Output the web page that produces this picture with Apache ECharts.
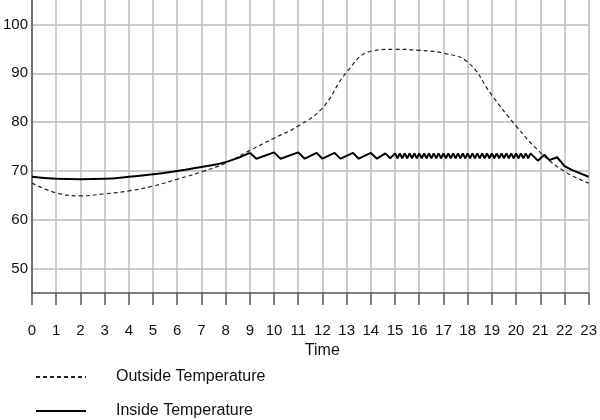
<!DOCTYPE html>
<html>
<head>
<meta charset="utf-8">
<script src="https://cdn.jsdelivr.net/npm/echarts@6/dist/echarts.min.js"></script>
<style>html,body{margin:0;padding:0;background:#fff}#c{width:600px;height:420px}</style>
</head>
<body>
<div id="c"></div>
<script>
const hours = [0,1,2,3,4,5,6,7,8,9,10,11,12,13,14,15,16,17,18,19,20,21,22,23];
const outsideTemp = [67.5,65.5,64.9,65.3,65.9,66.9,68.3,69.8,71.6,74.2,76.7,79.2,82.9,90.2,94.5,94.9,94.7,94.1,92.3,85.5,79.2,73.8,69.9,67.5];
const insideMorningHours = [0,1,2,3,4,5,6,7,8,9];
const insideMorningTemp = [68.8,68.4,68.3,68.4,68.8,69.3,70.0,70.8,71.8,73.7];
const insideCyclingTimes = [9.0,9.27,10.0,10.27,11.0,11.27,11.76,12.0,12.5,12.75,13.26,13.5,14.0,14.25,14.6,14.8,15.0,
  15.1,15.2,15.3,15.4,15.5,15.6,15.7,15.8,15.9,16.0,
  16.1,16.2,16.3,16.4,16.5,16.6,16.7,16.8,16.9,17.0,
  17.1,17.2,17.3,17.4,17.5,17.6,17.7,17.8,17.9,18.0,
  18.1,18.2,18.3,18.4,18.5,18.6,18.7,18.8,18.9,19.0,
  19.1,19.2,19.3,19.4,19.5,19.6,19.7,19.8,19.9,20.0,
  20.1,20.2,20.3,20.4,20.5,20.6,
  20.9,21.17,21.38,21.7,22.0,22.3,23.0];
const insideCyclingTemp = [73.7,72.5,73.8,72.5,73.8,72.5,73.7,72.5,73.7,72.5,73.7,72.5,73.7,72.5,73.6,72.6,73.6,
  72.6,73.6,72.6,73.6,72.6,73.6,72.6,73.6,72.6,73.6,
  72.6,73.6,72.6,73.6,72.6,73.6,72.6,73.6,72.6,73.6,
  72.6,73.6,72.6,73.6,72.6,73.6,72.6,73.6,72.6,73.6,
  72.6,73.6,72.6,73.6,72.6,73.6,72.6,73.6,72.6,73.6,
  72.6,73.6,72.6,73.6,72.6,73.6,72.6,73.6,72.6,73.6,
  72.6,73.6,72.6,73.6,72.6,73.6,
  72.1,73.3,72.2,72.8,71.0,70.2,68.8];
const yTicks = [50,60,70,80,90,100];

const zip = (xs, ys) => xs.map((x, i) => [x, ys[i]]);
const FONT = 'Liberation Sans, Arial, sans-serif';

const legendBase = {
  orient: 'vertical', left: 30, itemWidth: 50, itemHeight: 14,
  itemStyle: {opacity: 0},
  textStyle: {fontFamily: FONT, fontSize: 16, color: '#111', padding: [0, 0, 0, 25]}
};

const chart = echarts.init(document.getElementById('c'), null, {renderer: 'canvas'});
chart.setOption({
  animation: false,
  backgroundColor: '#fff',
  grid: {left: 31, right: 7, top: 0, bottom: 127, containLabel: false},
  xAxis: {
    type: 'value', min: 0, max: 23, interval: 1,
    name: 'Time', nameLocation: 'middle', nameGap: 42,
    nameTextStyle: {fontFamily: FONT, fontSize: 16, color: '#111', padding: [0, 0, 0, 24]},
    axisLine: {show: true, lineStyle: {color: '#555', width: 1.5}},
    axisTick: {show: true, inside: false, length: 12, lineStyle: {color: '#555', width: 1.5}},
    axisLabel: {fontFamily: FONT, fontSize: 15, color: '#111', margin: 30},
    splitLine: {show: true, lineStyle: {color: '#bdbdbd', width: 1.5}}
  },
  yAxis: {
    type: 'value', min: 45, max: 105, interval: 5,
    axisLine: {show: true, lineStyle: {color: '#555', width: 1.5}},
    axisTick: {show: false},
    axisLabel: {fontFamily: FONT, fontSize: 15, color: '#111', margin: 4,
      formatter: v => yTicks.indexOf(v) >= 0 ? String(v) : ''},
    splitLine: {show: true, lineStyle: {color: ['rgba(0,0,0,0)', '#bdbdbd'], width: 1.5}}
  },
  legend: [
    Object.assign({}, legendBase, {top: 364, data: ['Outside Temperature']}),
    Object.assign({}, legendBase, {top: 398, data: ['Inside Temperature']})
  ],
  series: [
    {name: 'Outside Temperature', type: 'line', smooth: 0.45, symbol: 'none',
      data: zip(hours, outsideTemp),
      itemStyle: {color: '#222'},
      lineStyle: {color: '#222', width: 1.2, type: [4, 3]}},
    {name: 'Inside Temperature', type: 'line', smooth: 0.5, symbol: 'none',
      data: zip(insideMorningHours, insideMorningTemp),
      itemStyle: {color: '#000'},
      lineStyle: {color: '#000', width: 2}},
    {name: 'Inside Temperature', type: 'line', smooth: false, symbol: 'none',
      data: zip(insideCyclingTimes, insideCyclingTemp),
      itemStyle: {color: '#000'},
      lineStyle: {color: '#000', width: 2}}
  ]
});
</script>
</body>
</html>
